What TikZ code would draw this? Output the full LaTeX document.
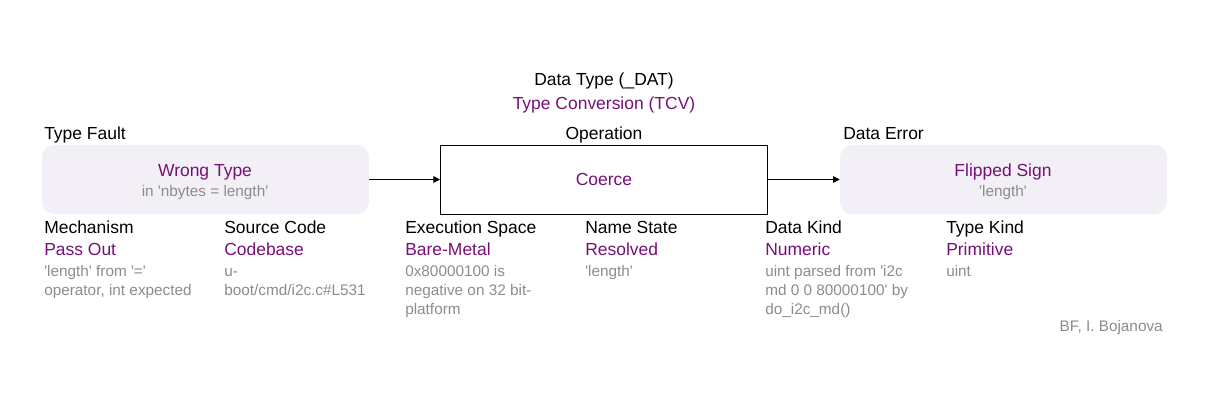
\documentclass[tikz,border=0pt]{standalone}
\usepackage{fontspec}
\setmainfont{Liberation Sans}[Ligatures=TeXOff]
\usetikzlibrary{arrows.meta,positioning}
\definecolor{bfpurple}{RGB}{118,16,118}
\definecolor{bfgray}{RGB}{140,140,140}
\definecolor{bffill}{RGB}{242,239,247}

\begin{document}
\begin{tikzpicture}[x=0.75pt, y=-0.75pt,
  head/.style={font=\fontsize{13.1}{16}\selectfont, inner sep=0pt},
  value/.style={font=\fontsize{13.1}{16}\selectfont, text=bfpurple, inner sep=0pt},
  note/.style={font=\fontsize{11.5}{14.25}\selectfont, text=bfgray, inner sep=0pt, align=left},
  box/.style={minimum width=245.25pt, minimum height=51.75pt, inner sep=0pt},
  arrow/.style={-{Triangle[length=5pt, width=5pt]}, line width=0.75pt}
]
\useasboundingbox (0,0) rectangle (1207,400);

% --- Class header ---
\node[head, anchor=base] (cls) at (604,85.7) {Data Type (\_DAT)};
\node[value, anchor=base] (clsname) at (604,109) {Type Conversion (TCV)};

% --- Boxes ---
\node[head, anchor=base west] (faulthd) at (44,139) {Type Fault};
\node[box, fill=bffill, rounded corners=9pt] (fault) at (205.5,179.5) {};
\node[value, anchor=base] (faultval) at (205,176.7) {Wrong Type};
\node[note, anchor=base] (faultnote) at (205,196) {in 'nbytes = length'};

\node[head, anchor=base] (operhd) at (604,139) {Operation};
\node[box, draw, line width=0.75pt] (oper) at (604,179.5) {};
\node[value, anchor=base] (operval) at (604,185) {Coerce};

\node[head, anchor=base west] (errhd) at (843,139) {Data Error};
\node[box, fill=bffill, rounded corners=9pt] (err) at (1003.5,179.5) {};
\node[value, anchor=base] (errval) at (1003,176.7) {Flipped Sign};
\node[note, anchor=base] (errnote) at (1003,196) {'length'};

% Arrows
\draw[arrow] (fault) -- (oper);
\draw[arrow] (oper) -- (err);

% --- Attributes (notes anchored on their last line) ---
\node[head, anchor=base west] (mechhd) at (44,233.5) {Mechanism};
\node[value, anchor=base west] (mechval) at (44,255.7) {Pass Out};
\node[note, anchor=base west] (mechnote) at (44,295) {'length' from '='\\operator, int expected};

\node[head, anchor=base west] (srchd) at (224,233.5) {Source Code};
\node[value, anchor=base west] (srcval) at (224,255.7) {Codebase};
\node[note, anchor=base west] (srcnote) at (224,295) {u-\\boot/cmd/i2c.c\#L531};

\node[head, anchor=base west] (exechd) at (405,233.5) {Execution Space};
\node[value, anchor=base west] (execval) at (405,255.7) {Bare-Metal};
\node[note, anchor=base west] (execnote) at (405,314) {0x80000100 is\\negative on 32 bit-\\platform};

\node[head, anchor=base west] (namehd) at (585,233.5) {Name State};
\node[value, anchor=base west] (nameval) at (585,255.7) {Resolved};
\node[note, anchor=base west] (namenote) at (585,276) {'length'};

\node[head, anchor=base west] (datahd) at (765,233.5) {Data Kind};
\node[value, anchor=base west] (dataval) at (765,255.7) {Numeric};
\node[note, anchor=base west] (datanote) at (765,314) {uint parsed from 'i2c\\md 0 0 80000100' by\\do\_i2c\_md()};

\node[head, anchor=base west] (typehd) at (946,233.5) {Type Kind};
\node[value, anchor=base west] (typeval) at (946,255.7) {Primitive};
\node[note, anchor=base west] (typenote) at (946,276) {uint};

\node[note, anchor=base east] (credit) at (1163,331) {BF, I. Bojanova};

\end{tikzpicture}
\end{document}
